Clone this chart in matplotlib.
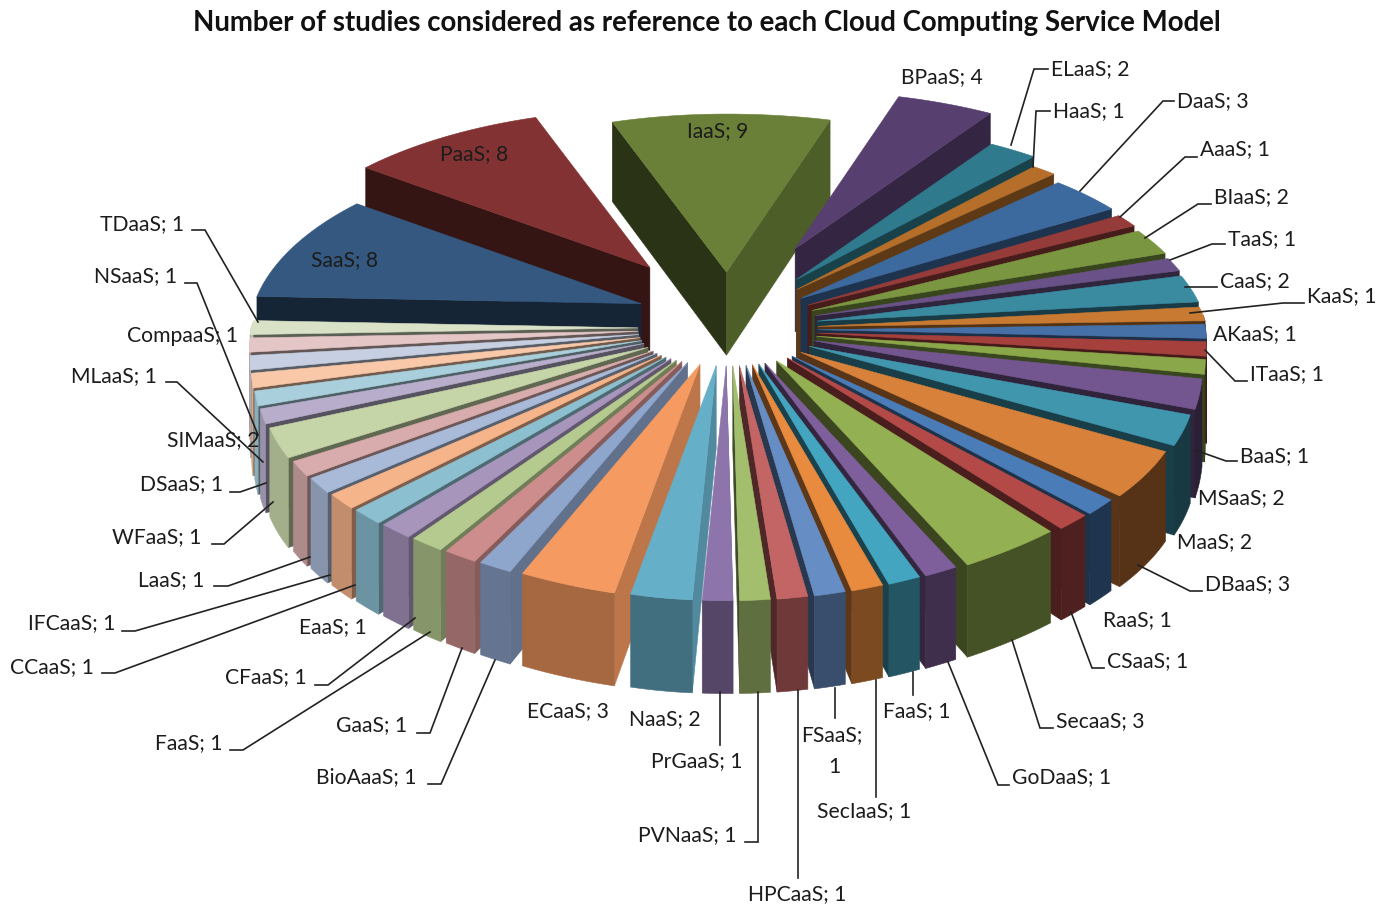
import numpy as np
import matplotlib
matplotlib.use("Agg")
import matplotlib.pyplot as plt
from matplotlib.patches import Polygon
from matplotlib.colors import to_rgb

names = ["IaaS","BPaaS","ELaaS","HaaS","DaaS","AaaS","BIaaS","TaaS","CaaS","KaaS","AKaaS","ITaaS",
         "BaaS","MSaaS","MaaS","DBaaS","RaaS","CSaaS","SecaaS","GoDaaS","FaaS","SecIaaS","FSaaS",
         "HPCaaS","PVNaaS","PrGaaS","NaaS","ECaaS","BioAaaS","GaaS","FaaS","CFaaS","EaaS","CCaaS",
         "IFCaaS","LaaS","SIMaaS","WFaaS","DSaaS","MLaaS","CompaaS","NSaaS","TDaaS","SaaS","PaaS"]
values = [9,4,2,1,3,1,2,1,2,1,1,1,1,2,2,3,1,1,3,1,1,1,1,1,1,1,2,3,1,1,1,1,1,1,1,1,2,1,1,1,1,1,1,8,8]
colors = ["#6a8038","#573f70","#2f7a8c","#b56f2a","#3d6a9e","#953c3a","#7a9640","#6a5288","#3a8aa0","#c87a33",
          "#4570a8","#a5403d","#8aa84a","#73568f","#4097ad","#d8813a","#4a7cb8","#b44a47","#93b052","#7f5f9b",
          "#44a5c0","#e88b3e","#668dc4","#c46565","#a3be6c","#8d74aa","#66afc9","#f59a60","#8ea5cc","#cd8d8c",
          "#b5ca8e","#a795bc","#8cbfd0","#f6b48a","#a8bad8","#d8acac","#c5d5a8","#b8aecb","#a8cfdb","#f8c8a8",
          "#c6d0e2","#e4c6c6","#d9e2c6","#34587f","#823232"]
explode = {"IaaS":93,"BPaaS":150,"ELaaS":108,"HaaS":96,"PaaS":130,"SaaS":92}
lift = {"SaaS":8}
title = "Number of studies considered as reference to each Cloud Computing Service Model"

# label layout: (x of left text edge, y centre, leader polyline)
labels = [
 ("IaaS; 9",687,131,None),("PaaS; 8",440,154,None),("SaaS; 8",311,260,None),
 ("BPaaS; 4",901,77,None),
 ("ELaaS; 2",1051,69,[(1048,69),(1034,69),(1011,145)]),
 ("HaaS; 1",1053,111,[(1050,111),(1036,111),(1033,167)]),
 ("DaaS; 3",1177,101,[(1174,101),(1163,101),(1080,191)]),
 ("AaaS; 1",1200,149,[(1197,157),(1185,157),(1120,217)]),
 ("BIaaS; 2",1214,197,[(1211,204),(1198,204),(1145,238)]),
 ("TaaS; 1",1228,239,[(1225,244),(1212,244),(1170,260)]),
 ("CaaS; 2",1220,281,[(1217,287),(1185,287)]),
 ("KaaS; 1",1307,296,[(1304,303),(1283,303),(1190,313)]),
 ("AKaaS; 1",1213,334,None),
 ("ITaaS; 1",1250,374,[(1247,381),(1235,381),(1205,350)]),
 ("BaaS; 1",1240,456,[(1237,461),(1226,461),(1195,450)]),
 ("MSaaS; 2",1198,498,None),("MaaS; 2",1177,542,None),
 ("DBaaS; 3",1205,584,[(1202,591),(1190,591),(1138,565)]),
 ("RaaS; 1",1103,620,None),
 ("CSaaS; 1",1107,661,[(1104,668),(1092,668),(1071,612)]),
 ("SecaaS; 3",1056,721,[(1053,728),(1040,728),(1012,640)]),
 ("GoDaaS; 1",1012,777,[(1009,785),(998,785),(948,662)]),
 ("FaaS; 1",883,711,[(913,695),(913,672)]),
 ("SecIaaS; 1",817,811,[(876,797),(876,680)]),
 ("FSaaS;",801,735,[(835,718),(835,688)]),("1",828,767,None),
 ("HPCaaS; 1",748,894,[(798,878),(798,690)]),
 ("PVNaaS; 1",638,835,[(745,842),(758,842),(758,692)]),
 ("PrGaaS; 1",651,761,[(720,745),(720,692)]),
 ("NaaS; 2",629,719,None),("ECaaS; 3",527,711,None),
 ("BioAaaS; 1",316,777,[(428,784),(441,784),(495,660)]),
 ("GaaS; 1",336,725,[(417,733),(430,733),(462,648)]),
 ("FaaS; 1",155,743,[(230,750),(243,750),(430,632)]),
 ("EaaS; 1",299,627,None),
 ("CFaaS; 1",225,677,[(315,685),(328,685),(415,618)]),
 ("CCaaS; 1",10,667,[(102,673),(115,673),(355,585)]),
 ("IFCaaS; 1",28,623,[(122,631),(135,631),(330,575)]),
 ("LaaS; 1",138,580,[(214,586),(228,586),(310,557)]),
 ("WFaaS; 1",112,537,[(212,544),(224,544),(273,502)]),
 ("DSaaS; 1",140,484,[(230,492),(240,492),(266,483)]),
 ("SIMaaS; 2",167,440,None),
 ("MLaaS; 1",71,376,[(166,382),(177,382),(263,462)]),
 ("CompaaS; 1",127,336,None),
 ("NSaaS; 1",94,276,[(185,283),(197,283),(258,435)]),
 ("TDaaS; 1",100,224,[(192,230),(205,230),(258,322)]),
]

CX, CY = 728.0, 328.0
START = -20.0
RX, RY = 387.0, 189.0
DEFAULT_E = 90.0

plt.rcParams['font.family'] = ['Lato', 'DejaVu Sans']
fig = plt.figure(figsize=(13.9, 9.05), dpi=100)
ax = fig.add_axes([0, 0, 1, 1])
ax.set_xlim(0, 1390); ax.set_ylim(905, 0); ax.axis('off')


def depth(a):
    return 86 - 7 * np.cos(a)


def rim(a, apex):
    c = np.cos(a)
    s = np.sin(a)
    gx = 1 / (1 + (0.17 if c > 0 else 0.07) * c)
    if c < 0:
        gx *= 1 + 0.065 * np.sin(2 * a) ** 2
    gy = 1 / (1 + 0.195 * c)
    rise = 6 * max(s, 0) ** 2
    return np.array([apex[0] + RX * s * gx, apex[1] - RY * c * gy - rise])


def scale(col, f):
    return tuple(min(1, v * f) for v in to_rgb(col))


def face_factor(n):
    return np.interp(np.degrees(n) % 360, [0, 90, 105, 135, 180, 240, 360],
                     [.38, .8, .76, .52, .42, .4, .38])


def poly(pts, col, z):
    ax.add_patch(Polygon(pts, closed=True, facecolor=col, edgecolor=col, linewidth=0.4, zorder=z))


unit = 360.0 / sum(values)
edges = START + unit * np.concatenate([[0], np.cumsum(values)])
mids = np.radians((edges[:-1] + edges[1:]) / 2)
order = np.argsort(-np.cos(mids))

for z, i in enumerate(order):
    a1, a2 = np.radians(edges[i]), np.radians(edges[i + 1])
    m = mids[i]
    E = explode.get(names[i], DEFAULT_E)
    ratio = 0.51 + 0.09 * np.cos(m)
    apex = np.array([CX + E * np.sin(m), CY - E * ratio * np.cos(m) - lift.get(names[i], 0)])
    col = colors[i]
    base = z * 4
    d0 = np.array([0, 83])

    for a, n, vis in ((a1, a1 - np.pi / 2, np.sin(a1) < 0.02), (a2, a2 + np.pi / 2, np.sin(a2) > -0.02)):
        if vis:
            e = rim(a, apex)
            poly([apex, e, e + [0, depth(a)], apex + d0], scale(col, face_factor(n)), base)

    aa = np.linspace(a1, a2, 24)
    vis = [t for t in aa if np.cos(t) < 0.03]
    if len(vis) > 1:
        top = [rim(t, apex) for t in vis]
        bot = [rim(t, apex) + [0, depth(t)] for t in vis]
        f = 0.6 - 0.25 * np.sin(m)
        poly(top + bot[::-1], scale(col, f), base + 1)

    poly([apex] + [rim(t, apex) for t in aa], col, base + 2)

Z = 1000
for txt, x, y, leader in labels:
    ax.text(x, y, txt, ha='left', va='center', fontsize=15.2, color='#1c1c1c', zorder=Z + 1)
    if leader:
        ax.plot(*zip(*leader), color='#222222', lw=1.2, zorder=Z, solid_joinstyle='miter')

ax.text(707, 23, title, ha='center', va='center', fontsize=19.9, fontweight='bold', color='#111111', zorder=Z)
fig.savefig('out.png', dpi=100)
